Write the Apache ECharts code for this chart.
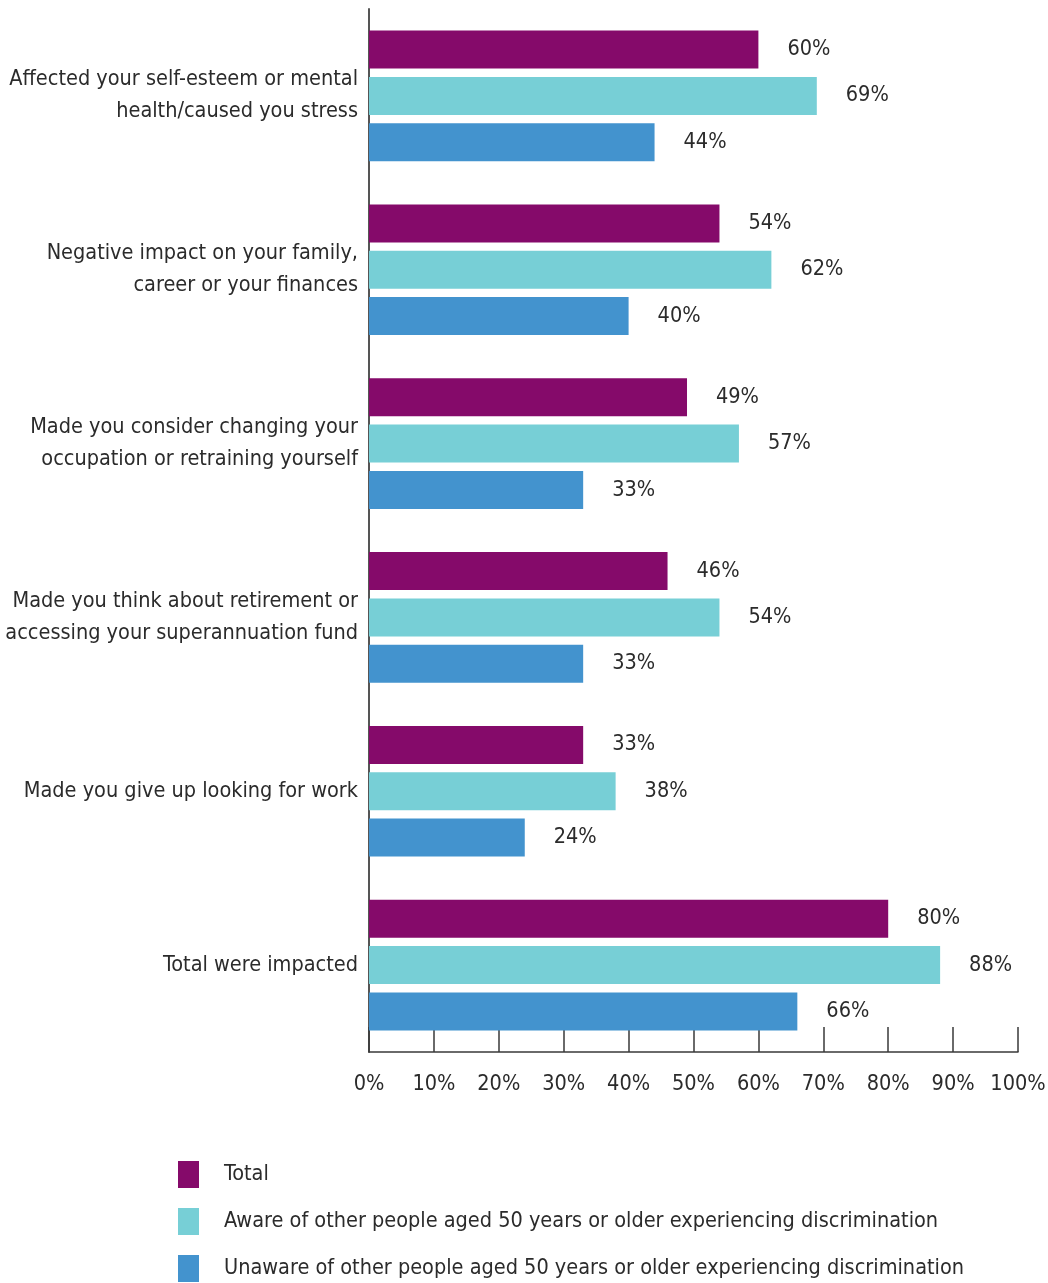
<!DOCTYPE html>
<html>
<head>
<meta charset="utf-8">
<script src="https://cdn.jsdelivr.net/npm/echarts@6/dist/echarts.min.js"></script>
<style>
  html, body { margin: 0; padding: 0; background: #fff; }
  #chart { width: 1048px; height: 1283px; }
</style>
</head>
<body>
<div id="chart"></div>
<script>
// Impacts of age discrimination, share of respondents (%)
const categories = [
  'Affected your self-esteem or mental\nhealth/caused you stress',
  'Negative impact on your family,\ncareer or your finances',
  'Made you consider changing your\noccupation or retraining yourself',
  'Made you think about retirement or\naccessing your superannuation fund',
  'Made you give up looking for work',
  'Total were impacted'
];
const seriesNames = [
  'Total',
  'Aware of other people aged 50 years or older experiencing discrimination',
  'Unaware of other people aged 50 years or older experiencing discrimination'
];
const totalValues   = [60, 54, 49, 46, 33, 80];
const awareValues   = [69, 62, 57, 54, 38, 88];
const unawareValues = [44, 40, 33, 33, 24, 66];
const seriesColors = ['#850A6A', '#77CFD6', '#4393CE'];

const FONT = '"DejaVu Sans Condensed", "Liberation Sans", sans-serif';
const FONT_SIZE = 21.5;
const TEXT = '#2b2b2b';

const chart = echarts.init(document.getElementById('chart'), null, { renderer: 'canvas' });

function makeSeries(name, values, color) {
  return {
    name: name,
    type: 'bar',
    data: values,
    barWidth: 38,
    barGap: '22%',
    itemStyle: { color: color },
    label: {
      show: true,
      position: 'right',
      distance: 29,
      formatter: '{c}%',
      fontFamily: FONT,
      fontSize: FONT_SIZE,
      color: TEXT
    },
    emphasis: { disabled: true }
  };
}

chart.setOption({
  animation: false,
  grid: { left: 369, right: 30, top: 9, bottom: 231, containLabel: false, outerBoundsMode: 'none' },
  legend: {
    orient: 'vertical',
    left: 178,
    top: 1161,
    height: 122,
    padding: 0,
    itemWidth: 21,
    itemHeight: 27,
    itemGap: 20,
    icon: 'rect',
    selectedMode: false,
    textStyle: { fontFamily: FONT, fontSize: FONT_SIZE, color: TEXT, padding: [3, 0, 0, 20] },
    data: seriesNames
  },
  xAxis: {
    type: 'value',
    min: 0,
    max: 100,
    interval: 10,
    axisLine: { show: true, lineStyle: { color: '#3a3a3a', width: 1.5 } },
    axisTick: { show: true, inside: true, length: 25, lineStyle: { color: '#3a3a3a', width: 1.5 } },
    splitLine: { show: false },
    axisLabel: {
      formatter: '{value}%',
      margin: 21,
      fontFamily: FONT,
      fontSize: FONT_SIZE,
      color: TEXT
    }
  },
  yAxis: {
    type: 'category',
    inverse: true,
    data: categories,
    axisLine: { show: true, lineStyle: { color: '#555', width: 2 } },
    axisTick: { show: false },
    axisLabel: {
      margin: 11,
      fontFamily: FONT,
      fontSize: FONT_SIZE,
      lineHeight: 32,
      color: TEXT,
      align: 'right',
      padding: [4, 0, 0, 0]
    }
  },
  series: [
    makeSeries(seriesNames[0], totalValues, seriesColors[0]),
    makeSeries(seriesNames[1], awareValues, seriesColors[1]),
    makeSeries(seriesNames[2], unawareValues, seriesColors[2])
  ]
});
</script>
</body>
</html>
